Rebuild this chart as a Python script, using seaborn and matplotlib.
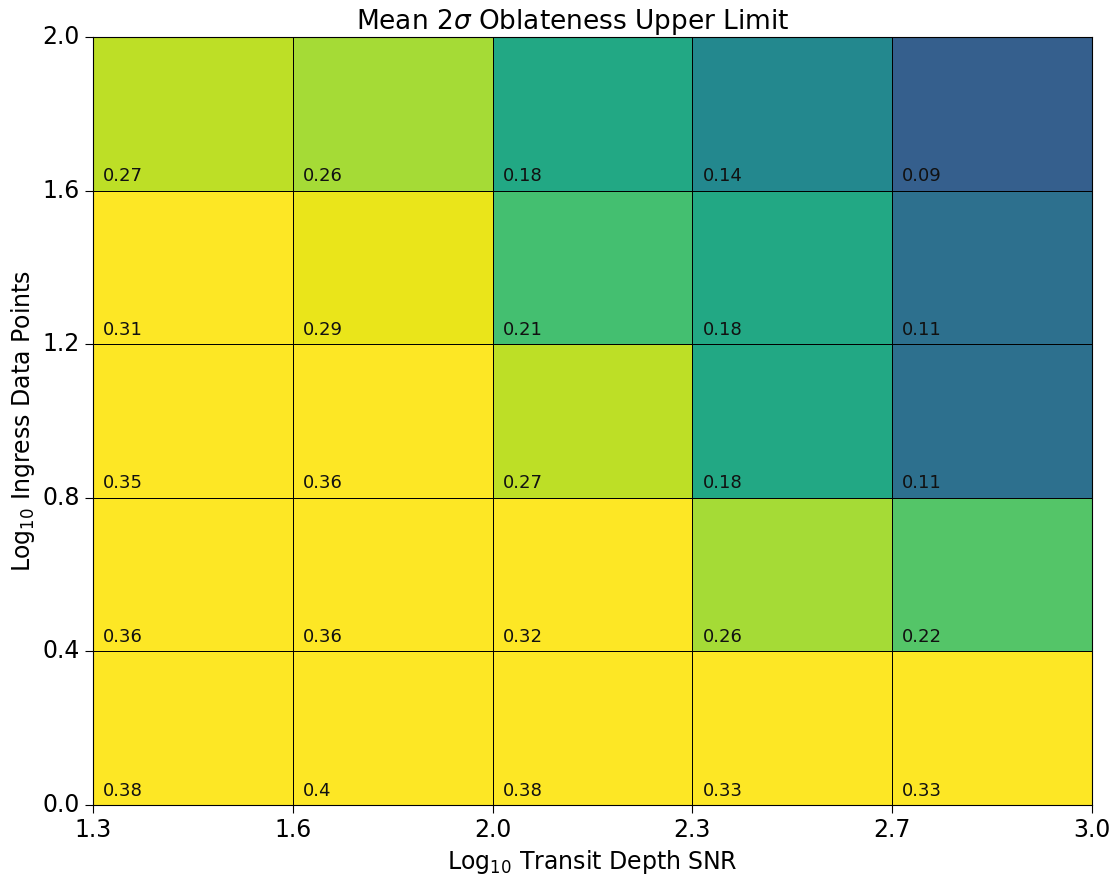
import numpy as np
import pandas as pd
import matplotlib
matplotlib.use("Agg")
import matplotlib.pyplot as plt
import seaborn as sns

# Grid edges
x_edges = ["1.3", "1.6", "2.0", "2.3", "2.7", "3.0"]
y_edges = ["2.0", "1.6", "1.2", "0.8", "0.4", "0.0"]  # top to bottom

# Mean 2-sigma oblateness upper limit, rows from top (Log ingress 1.6-2.0) to bottom (0.0-0.4)
row_16_20 = [0.27, 0.26, 0.18, 0.14, 0.09]
row_12_16 = [0.31, 0.29, 0.21, 0.18, 0.11]
row_08_12 = [0.35, 0.36, 0.27, 0.18, 0.11]
row_04_08 = [0.36, 0.36, 0.32, 0.26, 0.22]
row_00_04 = [0.38, 0.40, 0.38, 0.33, 0.33]

data = np.array([row_16_20, row_12_16, row_08_12, row_04_08, row_00_04])
df = pd.DataFrame(data)

fig = plt.figure(figsize=(11.17, 8.75), dpi=100)
ax = fig.add_axes([0.0833, 0.08, 0.8943, 0.8777])

sns.heatmap(df, ax=ax, cmap="viridis", vmin=0.0, vmax=0.3, cbar=False,
            linewidths=0.6, linecolor="black", annot=False)

nrows, ncols = data.shape
for i in range(nrows):
    for j in range(ncols):
        v = data[i, j]
        ax.text(j + 0.05, i + 1 - 0.035, str(round(float(v), 2)),
                ha="left", va="bottom", fontsize=13, color="#111111")

ax.set_xticks(np.arange(ncols + 1))
ax.set_xticklabels(x_edges, rotation=0, fontsize=17)
ax.set_yticks(np.arange(nrows + 1))
ax.set_yticklabels(y_edges, rotation=0, fontsize=17)
ax.tick_params(axis="both", which="both", direction="out", length=6, width=0.8, color="black")

for s in ax.spines.values():
    s.set_visible(True)
    s.set_color("black")
    s.set_linewidth(0.8)

ax.set_xlabel(r"Log$_{10}$ Transit Depth SNR", fontsize=17)
ax.set_ylabel(r"Log$_{10}$ Ingress Data Points", fontsize=17)
ax.set_title(r"Mean 2$\sigma$ Oblateness Upper Limit", fontsize=19, x=0.48)

fig.savefig("out.png", dpi=100)
